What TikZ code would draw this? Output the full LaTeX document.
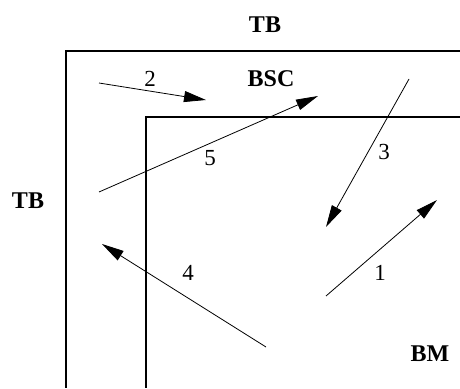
\documentclass[tikz,border=0pt]{standalone}
\usepackage{fontspec}
\setmainfont{Liberation Serif}
\usetikzlibrary{arrows.meta}
\begin{document}
\begin{tikzpicture}[x=1pt,y=-1pt,font=\fontsize{23}{27}\selectfont,
  flow/.style={-{Triangle[length=22pt,width=11pt]},line width=0.8pt},
  region/.style={font=\fontsize{24}{28}\selectfont\bfseries}]
\useasboundingbox (0,0) rectangle (460,388);
% borders
\draw[line width=2pt] (460,51) -- (66,51) -- (66,388);
\draw[line width=1.1pt] (460,117) -- (146,117) -- (146,388);
% region labels
\node[region] (tbtop) at (265,25) {TB};
\node[region] (tbleft) at (28,201) {TB};
\node[region] (bsc) at (271,79) {BSC};
\node[region] (bm) at (430,354) {BM};
% flux ends
\coordinate (s1) at (326,296); \coordinate (e1) at (437,200);
\coordinate (s2) at (99,83);   \coordinate (e2) at (206,100);
\coordinate (s3) at (409,79);  \coordinate (e3) at (326,227);
\coordinate (s4) at (266,347); \coordinate (e4) at (102,244);
\coordinate (s5) at (99,192);  \coordinate (e5) at (318,96);
\foreach \i in {1,...,5}
  \draw[flow] (s\i) -- (e\i);
% flux numbers
\foreach \i/\x/\y in {1/380/273,2/150/79,3/384/152,4/188/273,5/210/158}
  \node (n\i) at (\x,\y) {\i};
\end{tikzpicture}
\end{document}
